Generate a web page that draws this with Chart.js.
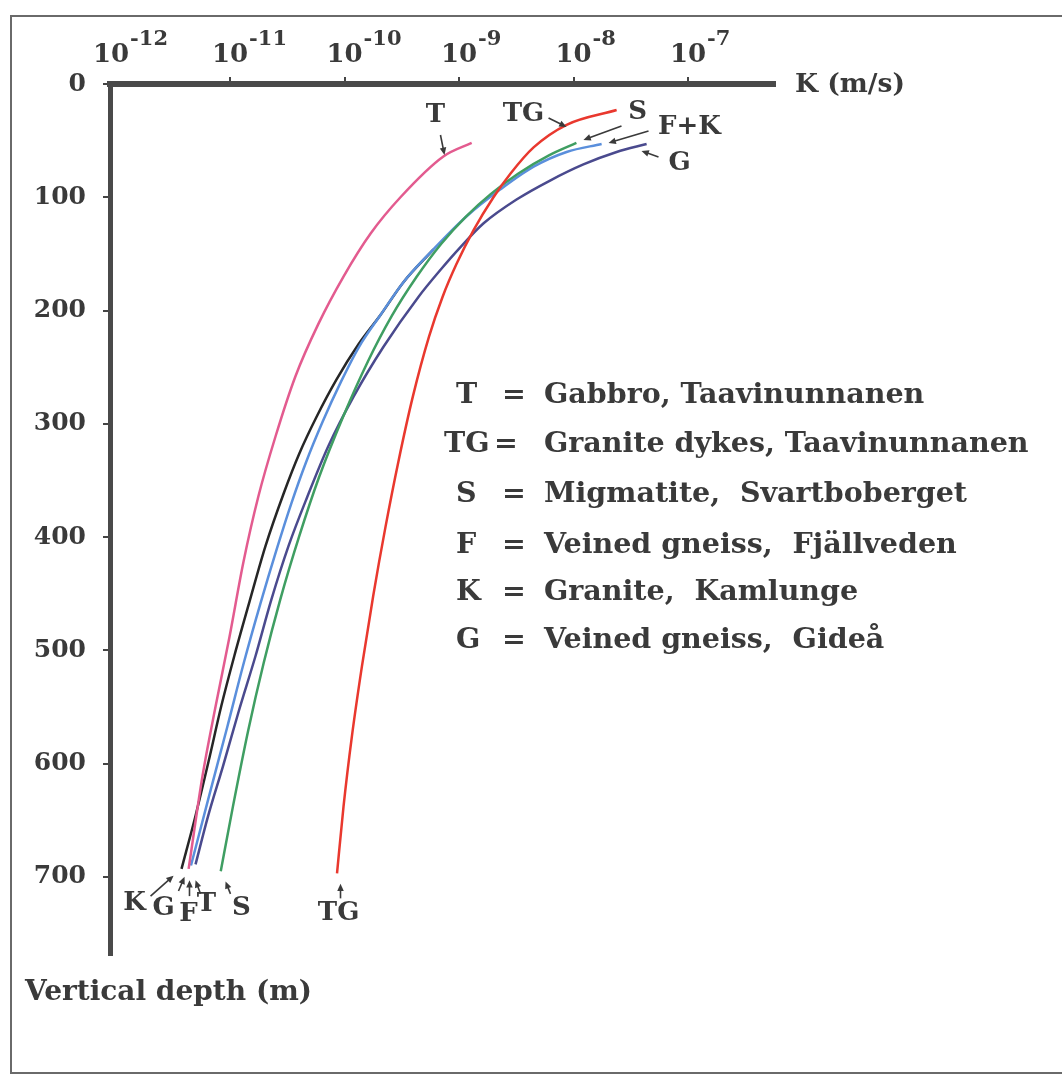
<!DOCTYPE html>
<html>
<head>
<meta charset="utf-8">
<script src="https://cdn.jsdelivr.net/npm/chart.js@4.4.0/dist/chart.umd.min.js"></script>
<style>
  html, body { margin: 0; padding: 0; background: #fff; }
  #wrap { width: 1062px; height: 1076px; position: relative; }
</style>
</head>
<body>
<div id="wrap"><canvas id="myChart"></canvas></div>
<script>
// hydraulic conductivity K (m/s) against vertical depth (m)
const depthT = [52, 64, 100, 132, 170, 212, 258, 311, 364, 422, 488, 549, 611, 693];
const kT = [1.29e-9, 7.3e-10, 3.08e-10, 1.69e-10, 9.8e-11, 5.9e-11, 3.73e-11, 2.5e-11, 1.77e-11, 1.31e-11, 9.9e-12, 7.5e-12, 5.75e-12, 4.35e-12];

const depthTG = [23, 36, 56, 79, 100, 129, 159, 188, 223, 276, 333, 391, 452, 514, 576, 638, 697];
const kTG = [2.38e-8, 8.7e-9, 4.48e-9, 2.82e-9, 2.0e-9, 1.34e-9, 9.5e-10, 7.18e-10, 5.47e-10, 3.95e-10, 2.96e-10, 2.28e-10, 1.78e-10, 1.42e-10, 1.16e-10, 9.8e-11, 8.6e-11];

const depthS = [52, 63, 79, 97, 117, 141, 170, 205, 245, 294, 347, 399, 455, 511, 571, 638, 695];
const kS = [1.06e-8, 6.1e-9, 3.3e-9, 1.9e-9, 1.15e-9, 7.0e-10, 4.28e-10, 2.58e-10, 1.6e-10, 9.7e-11, 6.0e-11, 4.03e-11, 2.75e-11, 1.97e-11, 1.44e-11, 1.06e-11, 8.3e-12];

const depthF = [53, 60, 73, 93, 117, 146, 175, 204, 232, 263, 298, 335, 370, 410, 459, 511, 567, 629, 690];
const kF = [1.76e-8, 8.7e-9, 4.48e-9, 2.3e-9, 1.16e-9, 5.98e-10, 3.27e-10, 2.06e-10, 1.34e-10, 9.3e-11, 6.45e-11, 4.57e-11, 3.44e-11, 2.57e-11, 1.84e-11, 1.32e-11, 9.5e-12, 6.55e-12, 4.56e-12];

const depthK = [146, 175, 204, 230, 261, 294, 326, 362, 408, 457, 505, 549, 598, 646, 693];
const kK = [5.98e-10, 3.27e-10, 2.06e-10, 1.32e-10, 8.5e-11, 5.69e-11, 4.04e-11, 2.93e-11, 2.04e-11, 1.48e-11, 1.09e-11, 8.4e-12, 6.5e-12, 5.0e-12, 3.77e-12];

const depthG = [53, 60, 71, 85, 102, 123, 144, 164, 188, 232, 276, 320, 364, 408, 455, 505, 554, 602, 646, 689];
const kG = [4.35e-8, 2.38e-8, 1.22e-8, 6.3e-9, 3.18e-9, 1.64e-9, 1.03e-9, 6.9e-10, 4.42e-10, 2.19e-10, 1.2e-10, 7.2e-11, 4.75e-11, 3.24e-11, 2.3e-11, 1.67e-11, 1.19e-11, 8.7e-12, 6.45e-12, 5.0e-12];

// decade exponents on the K axis
const tickExps = [-12, -11, -10, -9, -8, -7];

const legendKeys = ['T', 'TG', 'S', 'F', 'K', 'G'];
const legendNames = [
  'Gabbro, Taavinunnanen',
  'Granite dykes, Taavinunnanen',
  'Migmatite,  Svartboberget',
  'Veined gneiss,  Fjällveden',
  'Granite,  Kamlunge',
  'Veined gneiss,  Gideå'
];

// curve labels: text position and arrow, as [log10 K, depth]
const curveLabels = [
  { text: 'T',   at: [-9.205, 27.3], from: [-9.162, 45],   to: [-9.127, 62.6] },
  { text: 'TG',  at: [-8.437, 26.5], from: [-8.218, 30],   to: [-8.061, 37.9] },
  { text: 'S',   at: [-7.441, 24.7], from: [-7.581, 37],   to: [-7.913, 49.4] },
  { text: 'F+K', at: [-6.987, 37.9], from: [-7.345, 41.4], to: [-7.694, 52] },
  { text: 'G',   at: [-7.074, 69.7], from: [-7.258, 64.4], to: [-7.406, 59.1] },
  { text: 'K',   at: [-11.834, 723], from: [-11.694, 717], to: [-11.493, 699] },
  { text: 'G',   at: [-11.581, 727.5], from: [-11.450, 712.5], to: [-11.397, 700] },
  { text: 'F',   at: [-11.362, 732.8], from: [-11.354, 717], to: [-11.354, 703] },
  { text: 'T',   at: [-11.205, 724], from: [-11.258, 715], to: [-11.301, 703] },
  { text: 'S',   at: [-10.9, 727.5], from: [-10.996, 715], to: [-11.039, 704] },
  { text: 'TG',  at: [-10.052, 732], from: [-10.035, 719], to: [-10.035, 706] }
];

const ink = '#3a3a3a';
const serif = '"DejaVu Serif", serif';

function pts(ks, ds) {
  return ks.map((k, i) => ({ x: k, y: ds[i] }));
}

function line(data, color, width) {
  return {
    data: data,
    borderColor: color,
    borderWidth: width || 2.5,
    pointRadius: 0,
    showLine: true,
    cubicInterpolationMode: 'monotone',
    fill: false
  };
}

function arrow(ctx, x1, y1, x2, y2) {
  const a = Math.atan2(y2 - y1, x2 - x1), h = 8;
  ctx.beginPath();
  ctx.moveTo(x1, y1);
  ctx.lineTo(x2 - Math.cos(a) * h * 0.6, y2 - Math.sin(a) * h * 0.6);
  ctx.stroke();
  ctx.beginPath();
  ctx.moveTo(x2, y2);
  ctx.lineTo(x2 - h * Math.cos(a - 0.42), y2 - h * Math.sin(a - 0.42));
  ctx.lineTo(x2 - h * Math.cos(a + 0.42), y2 - h * Math.sin(a + 0.42));
  ctx.closePath();
  ctx.fill();
}

const decor = {
  id: 'decor',
  beforeDraw(chart) {
    const ctx = chart.ctx;
    ctx.save();
    ctx.fillStyle = '#fff';
    ctx.fillRect(0, 0, chart.width, chart.height);
    ctx.strokeStyle = '#6a6a6a';
    ctx.lineWidth = 2;
    ctx.beginPath();
    ctx.moveTo(1062, 16);
    ctx.lineTo(11, 16);
    ctx.lineTo(11, 1073);
    ctx.lineTo(1062, 1073);
    ctx.stroke();
    ctx.restore();
  },
  afterDraw(chart) {
    const ctx = chart.ctx, xs = chart.scales.x, ys = chart.scales.y;
    const area = chart.chartArea;
    ctx.save();
    ctx.fillStyle = ink;
    ctx.strokeStyle = ink;
    ctx.textBaseline = 'alphabetic';

    // 10^n labels above the K axis
    tickExps.forEach(e => {
      let cx = xs.getPixelForValue(Math.pow(10, e));
      if (e === -12) cx = area.left + 1;
      ctx.font = 'bold 26px ' + serif;
      ctx.textAlign = 'center';
      ctx.fillText('10', cx, 62);
      const w = ctx.measureText('10').width;
      ctx.font = 'bold 21px ' + serif;
      ctx.textAlign = 'left';
      ctx.fillText(String(e), cx + w / 2 + 1, 45);
    });

    // axis titles
    ctx.font = 'bold 26.5px ' + serif;
    ctx.textAlign = 'left';
    ctx.fillText('K (m/s)', area.right + 20, 92);
    ctx.font = 'bold 28px ' + serif;
    ctx.fillText('Vertical depth (m)', 25, 1000);

    // legend block
    const rowY = [403, 452, 502, 553, 600, 648];
    ctx.font = 'bold 28.5px ' + serif;
    legendKeys.forEach((key, i) => {
      ctx.textAlign = 'left';
      ctx.fillText(key, key === 'TG' ? 444 : 456, rowY[i]);
      ctx.fillText('=', key === 'TG' ? 494 : 502, rowY[i]);
      ctx.fillText(legendNames[i], 544, rowY[i]);
    });

    // curve labels with arrows
    ctx.lineWidth = 1.6;
    curveLabels.forEach(l => {
      const tx = xs.getPixelForValue(Math.pow(10, l.at[0]));
      const ty = ys.getPixelForValue(l.at[1]);
      ctx.font = 'bold 26px ' + serif;
      ctx.textAlign = 'center';
      ctx.textBaseline = 'middle';
      ctx.fillText(l.text, tx, ty);
      arrow(ctx,
        xs.getPixelForValue(Math.pow(10, l.from[0])), ys.getPixelForValue(l.from[1]),
        xs.getPixelForValue(Math.pow(10, l.to[0])), ys.getPixelForValue(l.to[1]));
    });
    ctx.restore();
  }
};

const config = {
  type: 'scatter',
  data: {
    datasets: [
      line(pts(kT, depthT), '#e35b8f'),
      line(pts(kTG, depthTG), '#e9382e'),
      line(pts(kS, depthS), '#3f9e62'),
      line(pts(kF, depthF), '#5a8fdc'),
      line(pts(kG, depthG), '#4a4a8e'),
      line(pts(kK, depthK), '#262626')
    ]
  },
  options: {
    responsive: true,
    maintainAspectRatio: false,
    animation: false,
    layout: { padding: { left: 0, top: 0, right: 287, bottom: 121 } },
    plugins: { legend: { display: false }, tooltip: { enabled: false } },
    scales: {
      x: {
        type: 'logarithmic',
        position: 'top',
        min: 8.95e-13,
        max: 5.75e-7,
        afterBuildTicks: function(scale) {
          scale.ticks = tickExps.filter(e => e > -12).map(e => ({ value: Math.pow(10, e) }));
        },
        afterFit: function(scale) { scale.height = 84; },
        ticks: { display: false },
        grid: { drawOnChartArea: false, drawTicks: true, tickLength: 7, color: '#444', lineWidth: 2 },
        border: { display: true, color: '#4a4a4a', width: 6 }
      },
      y: {
        type: 'linear',
        reverse: true,
        min: 0,
        max: 769,
        afterFit: function(scale) { scale.width = 110; },
        ticks: {
          stepSize: 100,
          includeBounds: false,
          padding: 17,
          color: ink,
          font: { family: serif, size: 25, weight: 'bold' }
        },
        grid: { drawOnChartArea: false, drawTicks: true, tickLength: 7, color: '#444', lineWidth: 2 },
        border: { display: true, color: '#4a4a4a', width: 5 }
      }
    }
  },
  plugins: [decor]
};

new Chart(document.getElementById('myChart'), config);
</script>
</body>
</html>
